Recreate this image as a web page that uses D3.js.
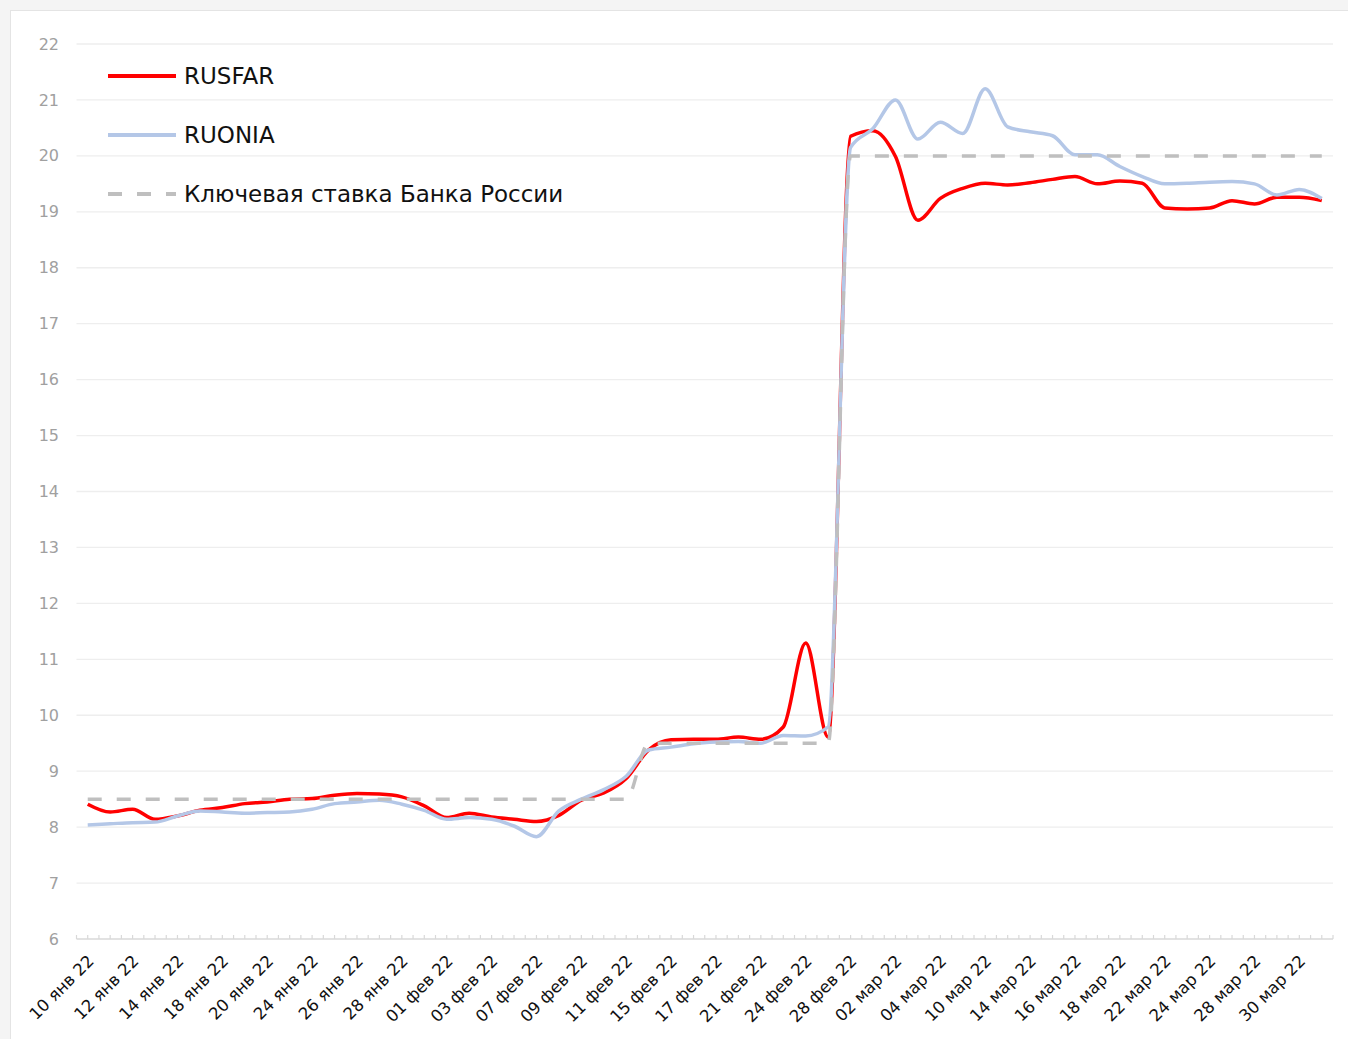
<!DOCTYPE html>
<html>
<head>
<meta charset="utf-8">
<script src="https://cdn.jsdelivr.net/npm/d3@7"></script>
<style>
  body { margin: 0; background: #f4f4f4; }
  svg { display: block; font-family: "DejaVu Sans", sans-serif; }
  .grid line { stroke: #eeeeee; stroke-width: 1.3; }
  .ytick { fill: #a0a0a0; font-size: 16px; }
  .xtick { fill: #111; font-size: 16.5px; }
  .legend-text { fill: #111; font-size: 23px; }
</style>
</head>
<body>
<svg id="chart" width="1348" height="1039"></svg>
<script>
// business days, 10 jan - 31 mar 2022
var dates = [
  "10 янв 22", "11 янв 22", "12 янв 22", "13 янв 22", "14 янв 22", "17 янв 22", "18 янв 22", "19 янв 22",
  "20 янв 22", "21 янв 22", "24 янв 22", "25 янв 22", "26 янв 22", "27 янв 22", "28 янв 22", "31 янв 22",
  "01 фев 22", "02 фев 22", "03 фев 22", "04 фев 22", "07 фев 22", "08 фев 22", "09 фев 22", "10 фев 22",
  "11 фев 22", "14 фев 22", "15 фев 22", "16 фев 22", "17 фев 22", "18 фев 22", "21 фев 22", "22 фев 22",
  "24 фев 22", "25 фев 22", "28 фев 22", "01 мар 22", "02 мар 22", "03 мар 22", "04 мар 22", "09 мар 22",
  "10 мар 22", "11 мар 22", "14 мар 22", "15 мар 22", "16 мар 22", "17 мар 22", "18 мар 22", "21 мар 22",
  "22 мар 22", "23 мар 22", "24 мар 22", "25 мар 22", "28 мар 22", "29 мар 22", "30 мар 22", "31 мар 22"
];

var rusfar = [
  8.41, 8.27, 8.32, 8.14, 8.20, 8.30, 8.35, 8.42, 8.45, 8.50, 8.51, 8.57, 8.60, 8.59, 8.54, 8.38,
  8.17, 8.25, 8.18, 8.14, 8.10, 8.21, 8.48, 8.61, 8.87, 9.38, 9.56, 9.57, 9.57, 9.61, 9.57, 9.79,
  11.29, 9.61, 20.35, 20.45, 19.99, 18.85, 19.24, 19.42, 19.51, 19.48, 19.52, 19.58, 19.63, 19.50,
  19.55, 19.51, 19.07, 19.05, 19.07, 19.20, 19.14, 19.26, 19.26, 19.20
];

var ruonia = [
  8.04, 8.06, 8.08, 8.09, 8.20, 8.29, 8.27, 8.25, 8.26, 8.27, 8.32, 8.42, 8.45, 8.48, 8.41, 8.30,
  8.14, 8.17, 8.14, 8.02, 7.83, 8.29, 8.50, 8.67, 8.91, 9.38, 9.43, 9.49, 9.52, 9.53, 9.50, 9.64,
  9.63, 9.79, 20.15, 20.49, 21.00, 20.30, 20.60, 20.40, 21.20, 20.52, 20.43, 20.36, 20.02, 20.02,
  19.81, 19.63, 19.50, 19.51, 19.53, 19.54, 19.50, 19.30, 19.40, 19.24
];

var keyRate = [
  8.5, 8.5, 8.5, 8.5, 8.5, 8.5, 8.5, 8.5, 8.5, 8.5, 8.5, 8.5, 8.5, 8.5, 8.5, 8.5,
  8.5, 8.5, 8.5, 8.5, 8.5, 8.5, 8.5, 8.5, 8.5, 9.5, 9.5, 9.5, 9.5, 9.5, 9.5, 9.5,
  9.5, 9.5, 20, 20, 20, 20, 20, 20, 20, 20, 20, 20, 20, 20,
  20, 20, 20, 20, 20, 20, 20, 20, 20, 20
];

var yTicks = [6, 7, 8, 9, 10, 11, 12, 13, 14, 15, 16, 17, 18, 19, 20, 21, 22];

var seriesNames = ["RUSFAR", "RUONIA", "Ключевая ставка Банка России"];

var svg = d3.select("#chart");

svg.append("rect")
   .attr("x", 10.5).attr("y", 10.5)
   .attr("width", 1345).attr("height", 1040)
   .attr("fill", "#fff")
   .attr("stroke", "#e4e4e4");

var plotLeft = 76.5, plotRight = 1333, plotTop = 44, plotBottom = 939;

var x = d3.scalePoint()
  .domain(d3.range(dates.length))
  .range([plotLeft, plotRight])
  .padding(0.5);

var y = d3.scaleLinear()
  .domain([6, 22])
  .range([plotBottom, plotTop]);

// gridlines
svg.append("g")
   .attr("class", "grid")
   .selectAll("line")
   .data(yTicks.slice(1))
   .enter().append("line")
   .attr("x1", plotLeft).attr("x2", plotRight)
   .attr("y1", function(d) { return y(d); })
   .attr("y2", function(d) { return y(d); });

svg.selectAll(".ytick")
   .data(yTicks)
   .enter().append("text")
   .attr("class", "ytick")
   .attr("x", 59)
   .attr("y", function(d) { return y(d); })
   .attr("dy", "0.35em")
   .attr("text-anchor", "end")
   .text(function(d) { return d; });

// x axis line + ticks (one tick each half step)
var step = x.step();
svg.append("line")
   .attr("x1", plotLeft).attr("x2", plotRight)
   .attr("y1", plotBottom).attr("y2", plotBottom)
   .attr("stroke", "#d9d9d9")
   .attr("stroke-width", 1.5);

svg.selectAll(".xt")
   .data(d3.range(dates.length * 2 + 1))
   .enter().append("line")
   .attr("class", "xt")
   .attr("x1", function(d) { return plotLeft + d * step / 2; })
   .attr("x2", function(d) { return plotLeft + d * step / 2; })
   .attr("y1", plotBottom)
   .attr("y2", plotBottom - 4)
   .attr("stroke", "#d9d9d9")
   .attr("stroke-width", 1.2);

svg.selectAll(".xtick")
   .data(dates.filter(function(d, i) { return i % 2 == 0; }))
   .enter().append("text")
   .attr("class", "xtick")
   .attr("text-anchor", "end")
   .attr("transform", function(d) {
     var i = dates.indexOf(d);
     return "translate(" + (x(i) + 3) + "," + (plotBottom + 19) + ") rotate(-45)";
   })
   .attr("dy", "0.35em")
   .text(function(d) { return d; });

// smoothed lines, no overshoot on the big jumps
var line = d3.line()
  .x(function(d, i) { return x(i); })
  .y(function(d) { return y(d); })
  .curve(d3.curveMonotoneX);

svg.append("path")
   .attr("d", line(rusfar))
   .attr("fill", "none")
   .attr("stroke", "#ff0000")
   .attr("stroke-width", 3.5);

svg.append("path")
   .attr("d", line(ruonia))
   .attr("fill", "none")
   .attr("stroke", "#b4c7e7")
   .attr("stroke-width", 3.5);

svg.append("path")
   .attr("d", line(keyRate))
   .attr("fill", "none")
   .attr("stroke", "#bfbfbf")
   .attr("stroke-width", 3.5)
   .attr("stroke-dasharray", "14,15");

// legend
var legendColors = ["#ff0000", "#b4c7e7", "#bfbfbf"];
var legendDash = [null, null, "14,15"];
var lg = svg.selectAll(".lg")
  .data(seriesNames)
  .enter().append("g")
  .attr("class", "lg")
  .attr("transform", function(d, i) { return "translate(108," + (76 + i * 59) + ")"; });

lg.append("line")
  .attr("x1", 0).attr("x2", 68)
  .attr("stroke", function(d, i) { return legendColors[i]; })
  .attr("stroke-width", 4)
  .attr("stroke-dasharray", function(d, i) { return legendDash[i]; });

lg.append("text")
  .attr("class", "legend-text")
  .attr("x", 76)
  .attr("dy", "0.36em")
  .text(function(d) { return d; });
</script>
</body>
</html>
